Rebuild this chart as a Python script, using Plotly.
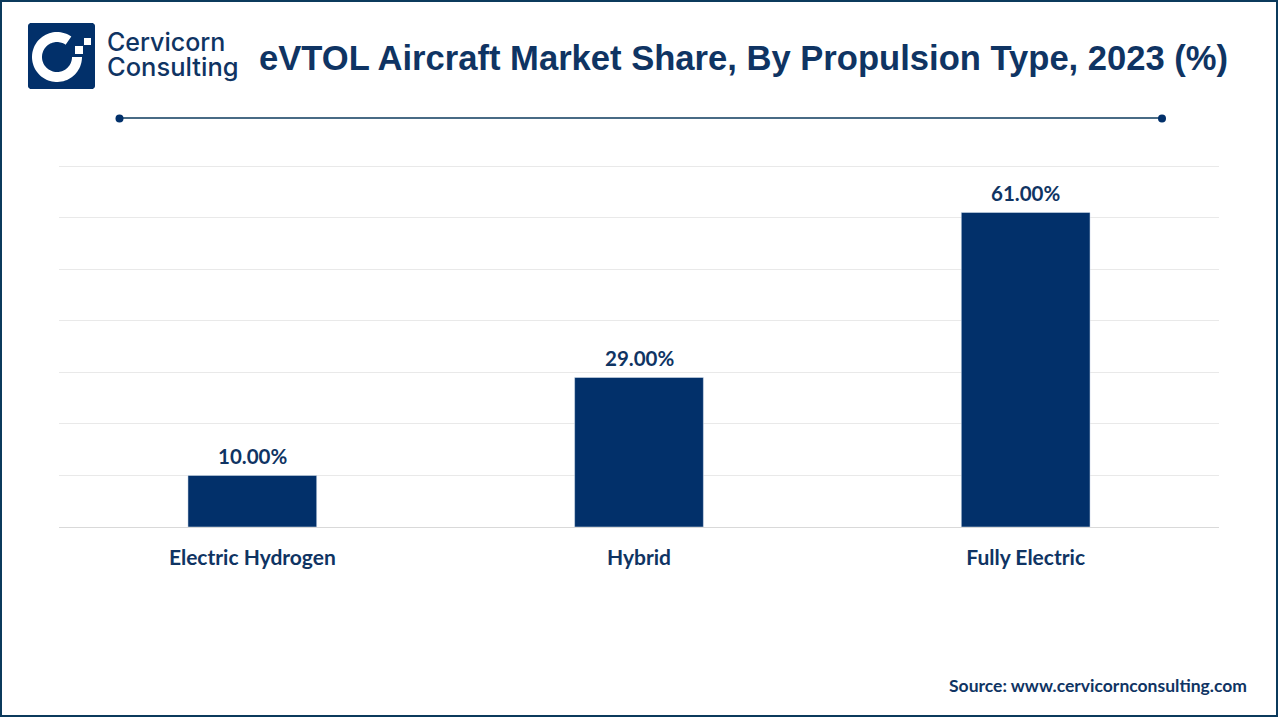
import numpy as np
import plotly.graph_objects as go

# Data
categories = ['Electric Hydrogen', 'Hybrid', 'Fully Electric']
shares = [10, 29, 61]
bar_labels = ['10.00%', '29.00%', '61.00%']
y_ticks = [0, 10, 20, 30, 40, 50, 60, 70]

# Constants
WIDTH = 1280
HEIGHT = 720
NAVY = '#02306A'
TEXT_NAVY = '#0F3463'
FRAME = '#0B3A5C'
Y_MAX = 70.5  # just past the 70 gridline, plotly drops gridlines right on the edge
PLOT_TOP = 527 - 361 * Y_MAX / 70


def px(x):
    return x / WIDTH


def py(y):
    return 1 - y / HEIGHT


def box(x0, y0, x1, y1, color):
    return dict(type='rect', xref='paper', yref='paper', layer='above',
                x0=px(x0), y0=py(y0), x1=px(x1), y1=py(y1),
                fillcolor=color, line=dict(width=0))


def polygon(points, color):
    path = 'M' + 'L'.join(f'{px(x):.5f},{py(y):.5f}' for x, y in points) + 'Z'
    return dict(type='path', xref='paper', yref='paper', layer='above',
                path=path, fillcolor=color, line=dict(width=0))


def logo_background(x0, y0, x1, y1, r):
    points = []
    corners = [(x1 - r, y0 + r, -90), (x1 - r, y1 - r, 0), (x0 + r, y1 - r, 90), (x0 + r, y0 + r, 180)]
    for cx, cy, start in corners:
        for a in np.radians(np.linspace(start, start + 90, 7)):
            points.append((cx + r * np.cos(a), cy + r * np.sin(a)))
    return polygon(points, NAVY)


def logo_ring(cx, cy, outer, inner, start, end):
    angles = np.radians(np.linspace(start, end, 70))
    points = [(cx + outer * np.cos(a), cy + outer * np.sin(a)) for a in angles]
    points += [(cx + inner * np.cos(a), cy + inner * np.sin(a)) for a in angles[::-1]]
    return polygon(points, 'white')


def page_text(text, x, y, anchor, family, size, weight):
    return dict(text=text, xref='paper', yref='paper', x=px(x), y=py(y),
                xanchor=anchor, yanchor='middle', showarrow=False,
                font=dict(family=family, size=size, color=TEXT_NAVY, weight=weight))


fig = go.Figure(
    go.Bar(
        x=categories,
        y=shares,
        marker_color=NAVY,
        hovertemplate='%{x}<br>%{y}%<extra></extra>',
    )
)

shapes = [
    # Frame
    dict(type='rect', xref='paper', yref='paper', x0=px(1), y0=py(1), x1=px(1277), y1=py(716),
         line=dict(color=FRAME, width=2), fillcolor='rgba(0,0,0,0)'),
    # Title rule
    dict(type='line', xref='paper', yref='paper', x0=px(119), y0=py(118), x1=px(1162), y1=py(118),
         line=dict(color=FRAME, width=1.5)),
    dict(type='circle', xref='paper', yref='paper', x0=px(115.5), y0=py(114.5), x1=px(123.5), y1=py(122.5),
         fillcolor=NAVY, line=dict(width=0)),
    dict(type='circle', xref='paper', yref='paper', x0=px(1158), y0=py(114.5), x1=px(1166), y1=py(122.5),
         fillcolor=NAVY, line=dict(width=0)),
    # Logo
    logo_background(28, 23, 95, 89, 3),
    logo_ring(57, 57, 25, 15, 0, 305),
    box(75, 46, 83, 54, 'white'),
    box(84, 38, 91, 45, 'white'),
]

annotations = [
    page_text('eVTOL Aircraft Market Share, By Propulsion Type, 2023 (%)', 257, 58, 'left',
              'Liberation Sans', 34.6, 'bold'),
    page_text('Cervicorn', 105, 42, 'left', 'Inter', 25, 500),
    page_text('Consulting', 105, 66, 'left', 'Inter', 25.5, 500),
    page_text('Source: www.cervicornconsulting.com', 1249, 685.5, 'right', 'Lato', 17.5, 'bold'),
]

# Value labels sit a little further off the bars than textposition='outside' allows
for category, share, label in zip(categories, shares, bar_labels):
    annotations.append(dict(
        text=label, x=category, y=share, xref='x', yref='y',
        xanchor='center', yanchor='bottom', yshift=5.5, showarrow=False,
        font=dict(family='Lato', size=20.5, color=TEXT_NAVY, weight='bold'),
    ))

fig.update_layout(
    width=WIDTH,
    height=HEIGHT,
    margin=dict(l=0, r=0, t=0, b=0),
    autosize=False,
    paper_bgcolor='white',
    plot_bgcolor='white',
    showlegend=False,
    bargap=0.667,
    shapes=shapes,
    annotations=annotations,
)

fig.update_xaxes(
    domain=[px(59), px(1219)],
    showgrid=False,
    showline=False,
    ticks='',
    ticklabelstandoff=16,
    tickfont=dict(family='Lato', size=21, color=TEXT_NAVY, weight='bold'),
)
fig.update_yaxes(
    domain=[py(527), py(PLOT_TOP)],
    range=[0, Y_MAX],
    tickmode='array',
    tickvals=y_ticks,
    showticklabels=False,
    ticks='',
    showgrid=True,
    gridcolor='#E9E9E9',
    gridwidth=1,
    zeroline=True,
    zerolinecolor='#D9D9D9',
    zerolinewidth=1,
)

fig.write_html('out.html', config=dict(displayModeBar=False), post_script="document.body.style.margin='0';")
